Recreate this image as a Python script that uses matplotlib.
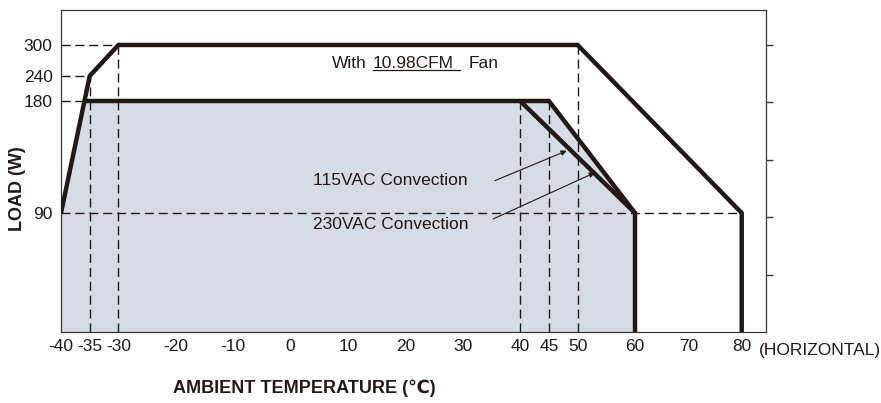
import numpy as np
import matplotlib.pyplot as plt
from matplotlib import font_manager
from matplotlib.lines import Line2D

# derating curves, load (W) against ambient temperature (C)
fan_temp = [-40, -35, -30, 50, 80, 80]
fan_load = [90, 240, 300, 300, 90, 0]

conv230_temp = [-36, 45, 60, 60]
conv230_load = [180, 180, 90, 0]

conv115_temp = [40, 60]
conv115_load = [180, 90]

# shaded convection area
area_temp = [-40, -40, -36, 45, 60, 60]
area_load = [0, 90, 180, 180, 90, 0]

x_ticks = [-40, -35, -30, -20, -10, 0, 10, 20, 30, 40, 45, 50, 60, 70, 80]
x_small_ticks = [-20, -10, 0, 10, 20, 30, 70]
y_ticks = [90, 180, 240, 300]
right_ticks = [20, 40, 60, 80, 100]  # percent of full load

# dashed guides: (level, start, end)
guide_h = [(300, -40, -30), (240, -40, -35), (180, -40, -36), (90, -40, 80)]
guide_v = [(-35, 0, 240), (-30, 0, 300), (40, 0, 180), (45, 0, 180), (50, 0, 300)]

# the chart axes are not linear, so map values through piecewise scales
LOAD_KNOTS = [0, 90, 180, 240, 300, 370]
LOAD_POS = [0, 119, 231, 256, 287, 323]
TEMP_KNOTS = [-40, 60, 80, 90]
TEMP_POS = [0, 574, 680.7, 734]

INK = '#231815'
FILL = '#d5dce4'


def pick_font():
    # narrow face is closer to the datasheet lettering, if it is installed
    try:
        font_manager.findfont('Liberation Sans Narrow', fallback_to_default=False)
        return ['Liberation Sans Narrow', 'DejaVu Sans'], 14.5, 15
    except ValueError:
        return ['Liberation Sans', 'DejaVu Sans'], 12.5, 13


def main():
    family, fs, fs_lab = pick_font()
    plt.rcParams['font.family'] = family

    fig = plt.figure(figsize=(8.81, 4.03), dpi=100)
    ax = fig.add_axes([61 / 881, 71 / 403, 704.7 / 881, 322 / 403])

    ax.set_xscale('function', functions=(lambda v: np.interp(v, TEMP_KNOTS, TEMP_POS),
                                         lambda p: np.interp(p, TEMP_POS, TEMP_KNOTS)))
    ax.set_yscale('function', functions=(lambda v: np.interp(v, LOAD_KNOTS, LOAD_POS),
                                         lambda p: np.interp(p, LOAD_POS, LOAD_KNOTS)))
    ax.set_xlim(-40, 84.5)
    ax.set_ylim(0, 368)

    ax.fill(area_temp, area_load, color=FILL, lw=0, zorder=1)

    dash = dict(color=INK, lw=1.0, dashes=(6.5, 3.5), zorder=2)
    for level, a, b in guide_h:
        ax.plot([a, b], [level, level], **dash)
    for pos, a, b in guide_v:
        ax.plot([pos, pos], [a, b], **dash)

    thick = dict(color=INK, lw=3.2, solid_joinstyle='miter', solid_capstyle='butt', zorder=3)
    ax.plot(fan_temp, fan_load, **thick)
    ax.plot(conv230_temp, conv230_load, **thick)
    ax.plot(conv115_temp, conv115_load, **thick)

    # labels inside the plot
    ax.text(7.2, 265, 'With', fontsize=fs, va='center', color=INK)
    cfm = ax.text(14.35, 265, '10.98CFM', fontsize=fs, va='center', color=INK)
    ax.text(31.1, 265, 'Fan', fontsize=fs, va='center', color=INK)

    ax.text(3.9, 116.5, '115VAC Convection', fontsize=fs, va='center', color=INK)
    ax.annotate('', xy=(48.1, 140), xytext=(35.6, 116),
                arrowprops=dict(arrowstyle='-|>', color=INK, lw=0.8,
                                mutation_scale=8, shrinkA=0, shrinkB=0))
    ax.text(3.9, 81, '230VAC Convection', fontsize=fs, va='center', color=INK)
    ax.annotate('', xy=(53.0, 122.4), xytext=(35.3, 85.5),
                arrowprops=dict(arrowstyle='-|>', color=INK, lw=0.8,
                                mutation_scale=8, shrinkA=0, shrinkB=0))

    # ticks
    ax.set_xticks(x_ticks)
    ax.set_xticklabels([str(t) for t in x_ticks])
    ax.set_xticks(x_small_ticks, minor=True)
    ax.set_yticks(y_ticks)
    ax.set_yticklabels([str(t) for t in y_ticks])
    ax.yaxis.set_minor_locator(plt.NullLocator())
    ax.tick_params(axis='x', which='major', length=0, pad=5, labelsize=fs, labelcolor=INK)
    ax.tick_params(axis='x', which='minor', direction='in', length=3.5, width=1, color=INK)
    ax.tick_params(axis='y', which='major', length=0, pad=6, labelsize=fs, labelcolor=INK)

    for s in ax.spines.values():
        s.set_color('#3a3a3a')
        s.set_linewidth(0.9)

    right = ax.twinx()
    right.set_ylim(0, 100 * 322 / 287)
    right.set_yticks(right_ticks)
    right.set_yticklabels([])
    right.tick_params(axis='y', direction='out', length=5, width=1, color='#3a3a3a')
    for s in right.spines.values():
        s.set_visible(False)

    fig.text(759 / 881, 1 - 350 / 403, '(HORIZONTAL)', fontsize=fs, va='center', color=INK)
    fig.text(173 / 881, 1 - 388 / 403, 'AMBIENT TEMPERATURE (\u2103)', fontsize=fs_lab,
             fontweight='bold', va='center', color=INK)
    fig.text(17 / 881, 1 - 189 / 403, 'LOAD (W)', fontsize=fs_lab, fontweight='bold',
             rotation=90, ha='center', va='center', color=INK)

    # underline the fan rating
    fig.canvas.draw()
    bb = cfm.get_window_extent()
    fig.add_artist(Line2D([bb.x0, bb.x1 + 6], [bb.y0 + 1, bb.y0 + 1], color=INK, lw=0.9,
                          transform=None))

    fig.savefig('out.png', dpi=100)


if __name__ == "__main__":
    main()
